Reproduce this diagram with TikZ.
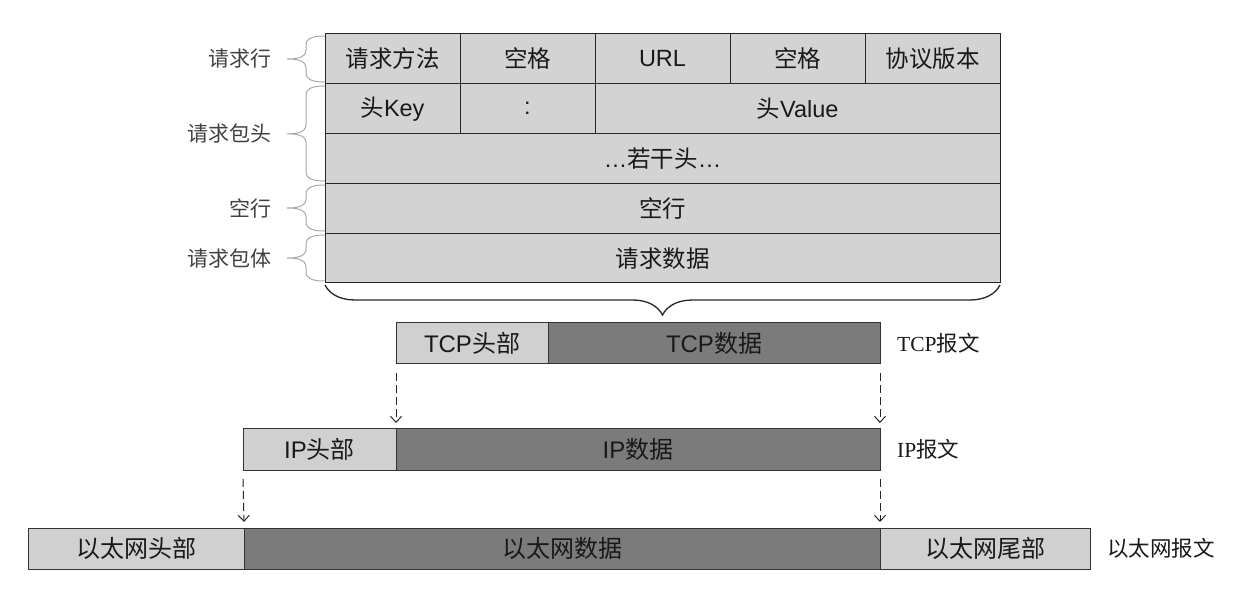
\documentclass[tikz,border=0pt]{standalone}
\usepackage{fontspec}
\setmainfont{Liberation Serif}
\setsansfont{Liberation Sans}
\newfontfamily\cjk{Noto Sans CJK SC}
\usetikzlibrary{positioning,decorations.pathreplacing,arrows.meta}

\definecolor{cellgray}{HTML}{D3D3D3}
\definecolor{lightseg}{HTML}{D0D0D0}
\definecolor{darkseg}{HTML}{7B7B7B}
\definecolor{bracegray}{HTML}{A8A8A8}
\newcommand{\zh}[1]{{\cjk #1}}

\tikzset{
	cell/.style = {draw=black!85, line width=1pt, fill=cellgray, anchor=north west,
		minimum height=49.8pt, inner sep=0pt, outer sep=0pt, text=black!90,
		font=\sffamily\fontsize{23.5}{28}\selectfont},
	seg/.style = {draw=black!80, line width=1pt, anchor=north west,
		minimum height=41pt, inner sep=0pt, outer sep=0pt, text=black!90,
		font=\sffamily\fontsize{24}{28}\selectfont},
	head/.style = {seg, fill=lightseg},
	data/.style = {seg, fill=darkseg},
	side/.style = {inner sep=0pt, text=black!75, font=\sffamily\fontsize{21}{25}\selectfont},
	kind/.style = {inner sep=0pt, text=black!90, font=\rmfamily\fontsize{21.5}{25}\selectfont},
	groupbrace/.style = {draw=bracegray, line width=1pt},
	bigbrace/.style = {draw=black!85, line width=1.3pt, decorate,
		decoration={brace, mirror, amplitude=30pt}},
	link/.style = {draw=black!85, line width=1pt, dash pattern=on 8pt off 4pt,
		-{Straight Barb[length=6pt,width=11pt]}},
}

% top, bottom, middle of a group (pixel rows)
\newcommand{\sidebrace}[3]{
	\draw[groupbrace] (325,#1) to[out=180,in=90] (306,#1+9) -- (306,#3-9)
		to[out=-90,in=0] (287,#3) to[out=0,in=90] (306,#3+9) -- (306,#2-9)
		to[out=-90,in=180] (325,#2);
}

\begin{document}
\begin{tikzpicture}[x=1pt, y=-1pt]

	\useasboundingbox (0,0) rectangle (1240,593);

	% request line
	\node[cell, minimum width=135pt] (method) at (325,34) {\zh{请求方法}};
	\node[cell, minimum width=135pt] (sp1) at (method.north east) {\zh{空格}};
	\node[cell, minimum width=135pt] (url) at (sp1.north east) {URL};
	\node[cell, minimum width=135pt] (sp2) at (url.north east) {\zh{空格}};
	\node[cell, minimum width=135pt] (version) at (sp2.north east) {\zh{协议版本}};

	% header lines
	\node[cell, minimum width=135pt] (hkey) at (method.south west) {\zh{头}Key};
	\node[cell, minimum width=135pt] (colon) at (hkey.north east) {:};
	\node[cell, minimum width=405pt] (hvalue) at (colon.north east) {\zh{头}Value};
	\node[cell, minimum width=675pt] (more) at (hkey.south west) {…\zh{若干头}…};

	\node[cell, minimum width=675pt] (blank) at (more.south west) {\zh{空行}};
	\node[cell, minimum width=675pt] (body) at (blank.south west) {\zh{请求数据}};

	% groups on the left
	\sidebrace{36}{82}{59}
	\sidebrace{86}{181}{133.8}
	\sidebrace{185}{231}{208}
	\sidebrace{235}{281}{258}
	\node[side, left=53pt of method.west] (lline) {\zh{请求行}};
	\node[side, left=53pt of hkey.south west] (lhead) {\zh{请求包头}};
	\node[side, left=53pt of blank.west] (lblank) {\zh{空行}};
	\node[side, left=53pt of body.west] (lbody) {\zh{请求包体}};

	\draw[bigbrace] ([yshift=-2pt]body.south west) -- ([yshift=-2pt]body.south east);

	% tcp
	\node[head, minimum width=152pt] (tcphead) at (396,323) {TCP\zh{头部}};
	\node[data, minimum width=484pt-152pt] (tcpdata) at (tcphead.north east) {TCP\zh{数据}};
	\node[kind, right=17pt of tcpdata] (tcpmsg) {TCP\zh{报文}};

	% ip
	\node[head, minimum width=153pt] (iphead) at (243,429) {IP\zh{头部}};
	\node[data, minimum width=484pt] (ipdata) at (iphead.north east) {IP\zh{数据}};
	\node[kind, right=17pt of ipdata] (ipmsg) {IP\zh{报文}};

	% ethernet
	\node[head, minimum width=216pt] (ethhead) at (28,528) {\zh{以太网头部}};
	\node[data, minimum width=636pt] (ethdata) at (ethhead.north east) {\zh{以太网数据}};
	\node[head, minimum width=210pt] (ethtail) at (ethdata.north east) {\zh{以太网尾部}};
	\node[kind, right=17pt of ethtail] (ethmsg) {\zh{以太网报文}};

	\draw[link] ([yshift=-9pt]tcphead.south west) -- ([yshift=6pt]ipdata.north west);
	\draw[link] ([yshift=-9pt]tcpdata.south east) -- ([yshift=6pt]ipdata.north east);
	\draw[link] ([yshift=-9pt]iphead.south west) -- ([yshift=6pt]ethdata.north west);
	\draw[link] ([yshift=-9pt]ipdata.south east) -- ([yshift=6pt]ethdata.north east);

\end{tikzpicture}
\end{document}
